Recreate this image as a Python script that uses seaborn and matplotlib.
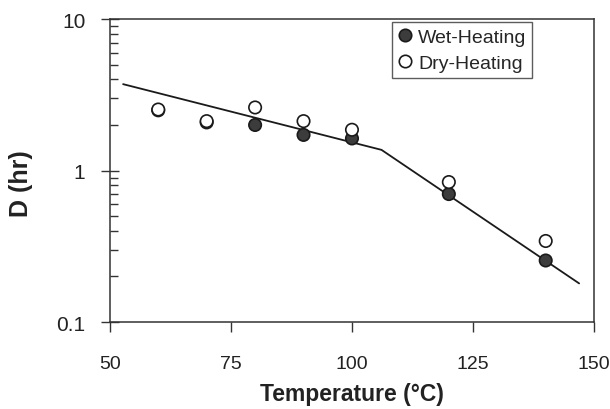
import matplotlib
import matplotlib.pyplot as plt
import numpy as np
import pandas as pd
import seaborn as sns
from matplotlib.ticker import FixedLocator, LogLocator, NullFormatter

matplotlib.use("Agg")

TEMPS = [60, 70, 80, 90, 100, 120, 140]
WET_D = [2.50, 2.08, 2.00, 1.72, 1.63, 0.70, 0.255]
DRY_D = [2.53, 2.12, 2.61, 2.12, 1.86, 0.84, 0.343]
FIT_T = [52.75, 106.1, 146.9]
FIT_D = [3.72, 1.37, 0.18]
X_TICKS = [50, 75, 100, 125, 150]
Y_TICKS = [0.1, 1, 10]
Y_TICK_LABELS = ["0.1", "1", "10"]


def main() -> None:
    sns.set_style("ticks")
    plt.rcParams["font.family"] = ["Liberation Sans", "DejaVu Sans"]

    points = pd.DataFrame(
        {
            "Temperature": TEMPS * 2,
            "D": WET_D + DRY_D,
            "Series": ["Wet-Heating"] * len(TEMPS) + ["Dry-Heating"] * len(TEMPS),
        }
    )
    fit = pd.DataFrame({"Temperature": FIT_T, "D": FIT_D})

    fig, ax = plt.subplots(figsize=(6.1, 4.1), dpi=100, facecolor="white")
    fig.subplots_adjust(left=0.180, right=0.974, top=0.951, bottom=0.212)

    sns.lineplot(data=fit, x="Temperature", y="D", color="#1a1a1a", linewidth=1.3, ax=ax, zorder=2)
    sns.scatterplot(
        data=points,
        x="Temperature",
        y="D",
        hue="Series",
        palette={"Wet-Heating": "#3c3c3c", "Dry-Heating": "white"},
        edgecolor="#1a1a1a",
        linewidth=1.2,
        s=80,
        ax=ax,
        zorder=3,
    )

    ax.set_yscale("log")
    ax.set_xlim(50, 150)
    ax.set_ylim(0.1, 10)
    ax.xaxis.set_major_locator(FixedLocator(X_TICKS))
    ax.set_xticklabels([str(t) for t in X_TICKS])
    ax.yaxis.set_major_locator(FixedLocator(Y_TICKS))
    ax.set_yticklabels(Y_TICK_LABELS)
    ax.yaxis.set_minor_locator(LogLocator(base=10, subs=np.arange(2, 10)))
    ax.yaxis.set_minor_formatter(NullFormatter())

    ax.tick_params(axis="x", which="major", direction="out", length=7, width=1, labelsize=14, pad=17, colors="#333333", labelcolor="#222222")
    ax.tick_params(axis="y", which="major", direction="inout", length=13, width=1, labelsize=15, pad=11, colors="#333333", labelcolor="#222222")
    ax.tick_params(axis="y", which="minor", direction="in", length=5.5, width=1, colors="#333333")

    for spine in ax.spines.values():
        spine.set_visible(True)
        spine.set_linewidth(1.1)
        spine.set_color("#333333")

    ax.set_xlabel("Temperature (°C)", fontsize=16.5, fontweight="bold", color="#222222", labelpad=7)
    ax.set_ylabel("D (hr)", fontsize=18, fontweight="bold", color="#222222")
    ax.yaxis.set_label_coords(-0.159, 0.459)

    handles, labels = ax.get_legend_handles_labels()
    leg = ax.legend(
        handles,
        labels,
        loc="upper right",
        bbox_to_anchor=(0.872, 0.990),
        borderaxespad=0.0,
        fontsize=14,
        frameon=True,
        fancybox=False,
        handlelength=0.8,
        handletextpad=0.25,
        borderpad=0.3,
        labelspacing=0.45,
        markerscale=1.0,
    )
    leg.get_frame().set_edgecolor("#333333")
    leg.get_frame().set_linewidth(1.0)

    fig.savefig("out.png", dpi=100, facecolor="white")
    plt.close(fig)


if __name__ == "__main__":
    main()
